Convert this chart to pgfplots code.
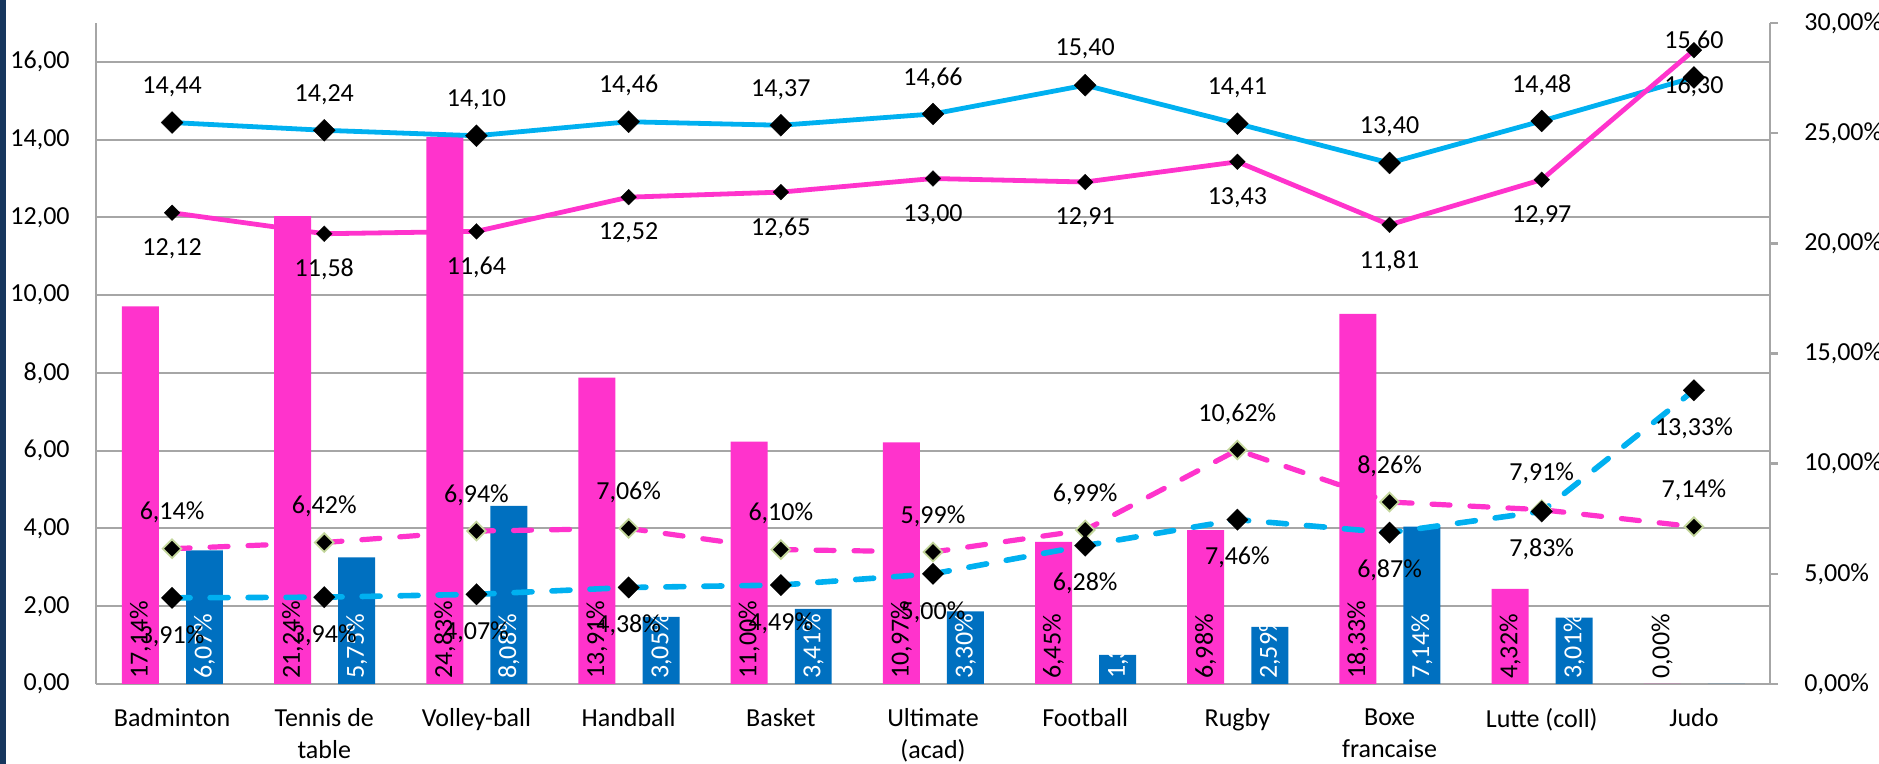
\documentclass[border=0pt]{standalone}
\usepackage{fontspec}
\setmainfont{Carlito}
\usepackage{pgfplots}
\usepackage{pgfplotstable}
\pgfplotsset{compat=1.18}

\definecolor{cpink}{HTML}{FF33CC}
\definecolor{cbar}{HTML}{0070C0}
\definecolor{cline}{HTML}{00B0F0}
\definecolor{cgrid}{HTML}{A6A6A6}
\definecolor{cnavy}{HTML}{17375E}
\definecolor{cgreen}{HTML}{C3D69B}

% x: category; bp/bb: bars (%), bpl: pink bar label; sb/sp: solid lines (left axis); dp/db: dashed lines (%)
\pgfplotstableread{
x bp    bpl   bb   sb    sp    dp    db
0 17.14 17.14 6.07 14.44 12.12 6.14  3.91
1 21.24 21.24 5.75 14.24 11.58 6.42  3.94
2 24.83 24.83 8.08 14.10 11.64 6.94  4.07
3 13.91 13.91 3.05 14.46 12.52 7.06  4.38
4 11.00 11.00 3.41 14.37 12.65 6.10  4.49
5 10.97 10.97 3.30 14.66 13.00 5.99  5.00
6 6.45  6.45  1.32 15.40 12.91 6.99  6.28
7 6.98  6.98  2.59 14.41 13.43 10.62 7.46
8 16.80 18.33 7.14 13.40 11.81 8.26  6.87
9 4.32  4.32  3.01 14.48 12.97 7.91  7.83
10 0.00 0.00  0.00 15.60 16.30 7.14  13.33
}\data

\pgfplotsset{
  base/.style={scale only axis, width=837pt, height=330.5pt,
    xmin=-0.5, xmax=10.5, clip=false,
    /pgf/number format/assume math mode=true},
}

\begin{document}
\begin{tikzpicture}[font=\fontsize{13}{16}\selectfont]
% Axis 1: left scale, grid, category labels
\begin{axis}[base, name=ax, ymin=0, ymax=17,
  ytick={0,2,...,16},
  yticklabel={\pgfmathprintnumber[fixed,fixed zerofill,precision=2,use comma]{\tick}},
  axis x line*=bottom, axis y line*=left,
  axis line style={draw=cgrid, line width=1.2pt},
  ymajorgrids, grid style={draw=cgrid, line width=1pt},
  major tick length=0pt,
  xtick={0,...,10},
  xticklabels={Badminton,{Tennis de\\table},Volley-ball,Handball,Basket,{Ultimate\\(acad)},Football,Rugby,{Boxe\\francaise},{Lutte (coll)},Judo},
  xticklabel style={align=center, inner sep=0pt, anchor=north, yshift=-12pt},
  yticklabel style={inner sep=0pt, anchor=east, xshift=-13pt},
]
\addplot[draw=none] coordinates {(0,0)};
\end{axis}

% Axis 2: right scale (%), bars and dashed lines
\begin{axis}[base, ymin=0, ymax=30,
  axis x line=none, axis y line*=right,
  axis line style={draw=cgrid, line width=1.2pt},
  ytick={0,5,...,30},
  yticklabel={\pgfmathprintnumber[fixed,fixed zerofill,precision=2,use comma]{\tick}\%},
  tick align=outside, major tick length=4pt,
  tick style={draw=cgrid, line width=1.2pt},
  yticklabel style={inner sep=0pt, anchor=west, xshift=13pt},
]
\addplot[ybar, bar width=0.243, bar shift=-0.208, fill=cpink, draw=none] table[x=x, y=bp]{\data};
\addplot[ybar, bar width=0.243, bar shift=0.213, fill=cbar, draw=none] table[x=x, y=bb]{\data};

% bar labels
\addplot[draw=none, point meta=explicit,
  nodes near coords={\pgfmathprintnumber[fixed,fixed zerofill,precision=2,use comma]{\pgfplotspointmeta}\%},
  every node near coord/.append style={rotate=90, anchor=west, inner sep=2.4pt, text=black}]
  table[x expr=\thisrow{x}-0.208, y expr=0, meta=bpl]{\data};
\addplot[draw=none, point meta=explicit,
  nodes near coords={\pgfmathprintnumber[fixed,fixed zerofill,precision=2,use comma]{\pgfplotspointmeta}\%},
  every node near coord/.append style={rotate=90, anchor=west, inner sep=2.4pt, text=white}]
  table[x expr=\thisrow{x}+0.213, y expr=0, meta=bb]{\data};

% dashed pink
\addplot[cpink, line width=2.6pt, dash pattern=on 9pt off 10pt, line cap=round,
  mark=square*, mark size=3.3pt,
  mark options={rotate=45, solid, fill=black, draw=cgreen, line width=0.9pt},
  point meta=y,
  nodes near coords={\pgfmathprintnumber[fixed,fixed zerofill,precision=2,use comma]{\pgfplotspointmeta}\%},
  every node near coord/.append style={anchor=center, yshift=18pt, text=black}]
  table[x=x, y=dp]{\data};
% dashed blue
\addplot[cline, line width=2.8pt, dash pattern=on 9pt off 10pt, line cap=round,
  mark=square*, mark size=3.8pt,
  mark options={rotate=45, solid, fill=black, draw=black, line width=0.1pt},
  point meta=y,
  nodes near coords={\pgfmathprintnumber[fixed,fixed zerofill,precision=2,use comma]{\pgfplotspointmeta}\%},
  every node near coord/.append style={anchor=center, yshift=-19pt, text=black}]
  table[x=x, y=db]{\data};
\end{axis}

% Axis 3: left scale, solid lines
\begin{axis}[base, ymin=0, ymax=17, hide axis]
\addplot[cline, line width=2.4pt,
  mark=square*, mark size=3.9pt,
  mark options={rotate=45, fill=black, draw=black, line width=0.1pt},
  point meta=y,
  nodes near coords={\pgfmathprintnumber[fixed,fixed zerofill,precision=2,use comma]{\pgfplotspointmeta}},
  every node near coord/.append style={anchor=center, yshift=18pt, text=black}]
  table[x=x, y=sb]{\data};
\addplot[cpink, line width=2.4pt,
  mark=square*, mark size=2.8pt,
  mark options={rotate=45, fill=black, draw=black, line width=0.1pt},
  point meta=y,
  nodes near coords={\pgfmathprintnumber[fixed,fixed zerofill,precision=2,use comma]{\pgfplotspointmeta}},
  every node near coord/.append style={anchor=center, yshift=-18pt, text=black}]
  table[x=x, y=sp]{\data};
\end{axis}

\pgfresetboundingbox
\fill[cnavy] ([shift={(-48pt,-40pt)}]ax.south west) rectangle ++(3pt,382pt);
\path ([shift={(-48pt,-40pt)}]ax.south west) rectangle ++(939.5pt,382pt);
\end{tikzpicture}
\end{document}
